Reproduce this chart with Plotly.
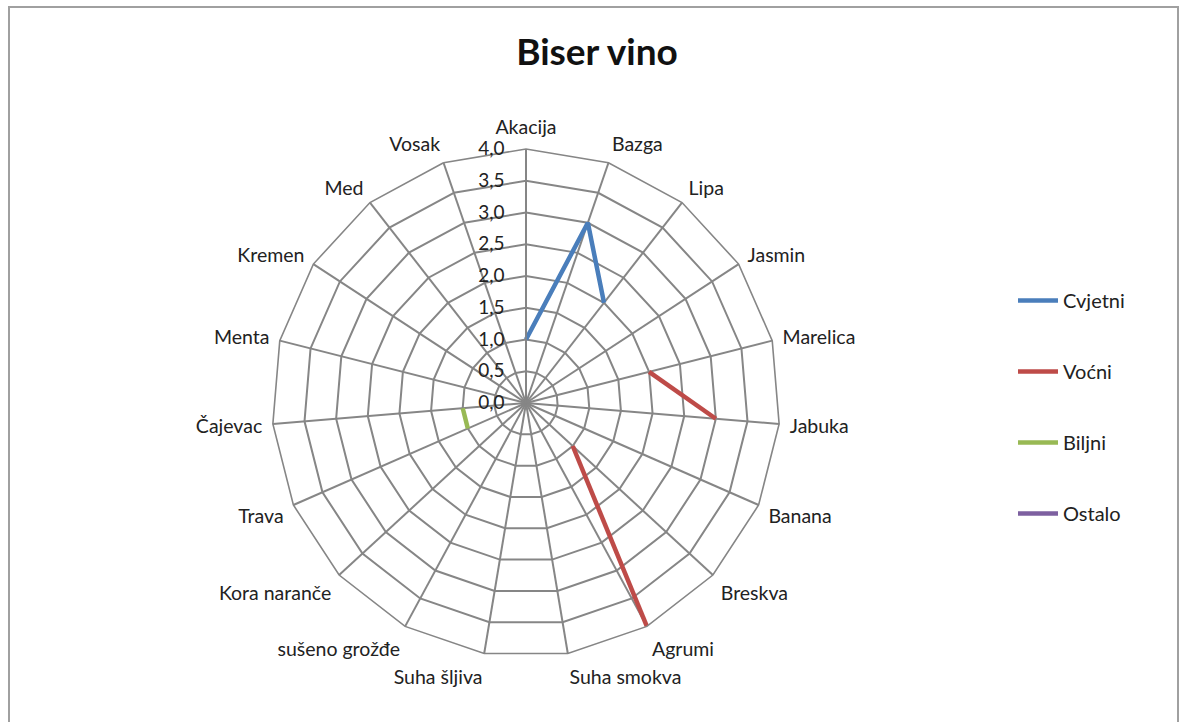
import plotly.graph_objects as go

categories = ["Akacija", "Bazga", "Lipa", "Jasmin", "Marelica", "Jabuka", "Banana",
              "Breskva", "Agrumi", "Suha smokva", "Suha šljiva", "sušeno grožđe",
              "Kora naranče", "Trava", "Čajevac", "Menta", "Kremen", "Med", "Vosak"]

cvjetni = [1.0, 3.0, 2.0] + [None] * 16
vocni = [None, None, None, None, 2.0, 3.0, None, 1.0, 4.0] + [None] * 10
biljni = [None] * 13 + [1.0, 1.0] + [None] * 4
ostalo = [None] * 19

series = [("Cvjetni", cvjetni, "#4A7EBB"),
          ("Voćni", vocni, "#BE4B48"),
          ("Biljni", biljni, "#98B954"),
          ("Ostalo", ostalo, "#7D60A0")]

tick_vals = [0, 0.5, 1.0, 1.5, 2.0, 2.5, 3.0, 3.5, 4.0]
tick_text = ["0,0", "0,5", "1,0", "1,5", "2,0", "2,5", "3,0", "3,5", "4,0"]

W, H = 1185, 722
cx, cy, R = 526, 403, 254

fig = go.Figure()
for i, (name, vals, color) in enumerate(series):
    fig.add_trace(go.Scatterpolar(
        r=vals, theta=categories, mode="lines", name=name,
        line=dict(color=color, width=4.5), connectgaps=False,
        legendgroup=str(i), showlegend=True,
    ))

fig.update_layout(
    width=W, height=H,
    margin=dict(l=0, r=0, t=0, b=0),
    paper_bgcolor="white",
    font=dict(family="Lato, Open Sans, sans-serif", size=19, color="#333333"),
    title=dict(text="<b>Biser vino</b>", x=597 / W, xanchor="center",
               y=1 - 52 / H, yanchor="middle",
               font=dict(size=37, color="#111111")),
    polar=dict(
        domain=dict(x=[(cx - R) / W, (cx + R) / W], y=[1 - (cy + R) / H, 1 - (cy - R) / H]),
        gridshape="linear",
        bgcolor="white",
        angularaxis=dict(
            categoryorder="array", categoryarray=categories,
            direction="clockwise", rotation=90,
            showline=True, linecolor="#868686", linewidth=1.6,
            showgrid=True, gridcolor="#868686", gridwidth=1.6,
            ticks="outside", ticklen=6, tickcolor="rgba(0,0,0,0)",
            tickfont=dict(size=19.5, color="#222222"),
        ),
        radialaxis=dict(
            range=[0, 4], tickvals=tick_vals, ticktext=tick_text,
            angle=90, tickangle=90, side="counterclockwise",
            showline=True, linecolor="#868686", linewidth=1.6,
            showgrid=True, gridcolor="#868686", gridwidth=1.6,
            ticks="outside", ticklen=14, tickcolor="rgba(0,0,0,0)",
            tickfont=dict(size=19, color="#222222"),
        ),
    ),
    legend=dict(x=1013 / W, y=1 - 281 / H, xanchor="left", yanchor="top",
                tracegroupgap=42, traceorder="grouped",
                font=dict(size=20, color="#222222"), itemwidth=40),
    shapes=[dict(type="rect", xref="paper", yref="paper",
                 x0=9 / W, x1=1178 / W, y0=-0.05, y1=1 - 7 / H,
                 line=dict(color="#A0A0A0", width=2), fillcolor="rgba(0,0,0,0)")],
)

fig.write_html("out.html", config={"displayModeBar": False},
               post_script="document.body.style.margin='0';document.body.style.overflow='hidden';")
